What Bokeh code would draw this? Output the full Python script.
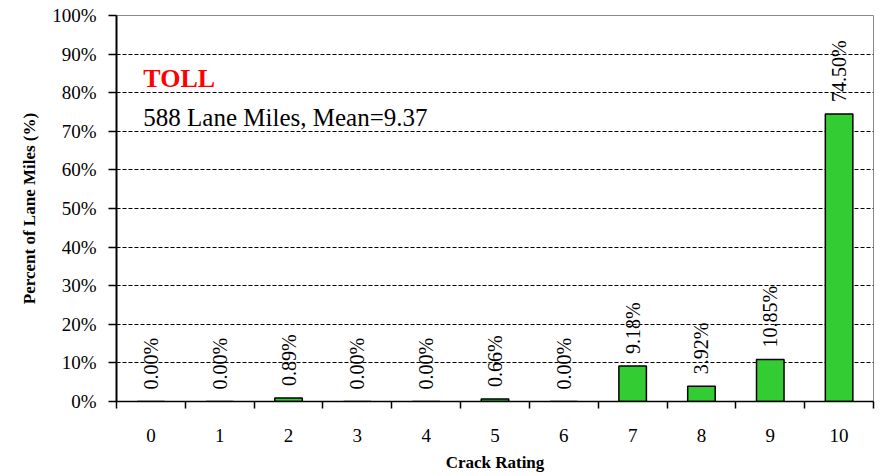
import math
from bokeh.plotting import figure
from bokeh.models import ColumnDataSource, FixedTicker, Label, CustomJSTickFormatter
from bokeh.core.properties import value
from bokeh.embed import file_html
from bokeh.resources import INLINE

ratings = [0, 1, 2, 3, 4, 5, 6, 7, 8, 9, 10]
percents = [0.00, 0.00, 0.89, 0.00, 0.00, 0.66, 0.00, 9.18, 3.92, 10.85, 74.50]
pct_labels = ["0.00%", "0.00%", "0.89%", "0.00%", "0.00%", "0.66%", "0.00%", "9.18%", "3.92%", "10.85%", "74.50%"]
y_ticks = [0, 10, 20, 30, 40, 50, 60, 70, 80, 90, 100]

FONT = "Liberation Serif"

src = ColumnDataSource(dict(x=ratings, top=percents, lab=pct_labels))

p = figure(width=876, height=474, x_range=(-0.5, 10.5), y_range=(0, 100),
           output_backend="svg", toolbar_location=None,
           min_border_left=116, min_border_top=15, min_border_right=3, min_border_bottom=60)

p.vbar(x="x", top="top", width=0.4, source=src, fill_color="#33CC33",
       line_color="black", line_width=1.5)

p.text(x="x", y="top", text="lab", source=src, angle=math.pi / 2,
       text_align="left", text_baseline="middle", y_offset=-12,
       text_font=value(FONT), text_font_size="20px", text_color="black")

# grid
p.xgrid.visible = False
p.ygrid.ticker = FixedTicker(ticks=y_ticks[1:-1])
p.ygrid.grid_line_color = "black"
p.ygrid.grid_line_dash = "4 2"
p.ygrid.grid_line_width = 1

p.outline_line_color = "#888888"
p.outline_line_width = 1
p.background_fill_color = "white"
p.border_fill_color = "white"

# x axis
p.xaxis.ticker = FixedTicker(ticks=ratings, minor_ticks=[r - 0.5 for r in ratings] + [10.5])
p.xaxis.major_tick_out = 0
p.xaxis.major_tick_in = 0
p.xaxis.minor_tick_out = 7
p.xaxis.minor_tick_in = 0
p.xaxis.minor_tick_line_color = "black"
p.xaxis.minor_tick_line_width = 1.5
p.xaxis.axis_line_color = "black"
p.xaxis.axis_line_width = 1.5
p.xaxis.major_label_text_font = FONT
p.xaxis.major_label_text_font_size = "19px"
p.xaxis.major_label_text_color = "black"
p.xaxis.major_label_standoff = 20
p.xaxis.axis_label = "Crack Rating"
p.xaxis.axis_label_text_font = FONT
p.xaxis.axis_label_text_font_size = "17px"
p.xaxis.axis_label_text_font_style = "bold"
p.xaxis.axis_label_text_color = "black"
p.xaxis.axis_label_standoff = 8

# y axis
p.yaxis.ticker = FixedTicker(ticks=y_ticks)
p.yaxis.formatter = CustomJSTickFormatter(code="return tick.toFixed(0) + '%';")
p.yaxis.major_tick_out = 8
p.yaxis.major_tick_in = 0
p.yaxis.minor_tick_out = 0
p.yaxis.minor_tick_in = 0
p.yaxis.major_tick_line_color = "black"
p.yaxis.major_tick_line_width = 1.5
p.yaxis.axis_line_color = "black"
p.yaxis.axis_line_width = 2
p.yaxis.major_label_text_font = FONT
p.yaxis.major_label_text_font_size = "19px"
p.yaxis.major_label_text_color = "black"
p.yaxis.major_label_standoff = 12
p.yaxis.axis_label = "Percent of Lane Miles (%)"
p.yaxis.axis_label_text_font = FONT
p.yaxis.axis_label_text_font_size = "17px"
p.yaxis.axis_label_text_font_style = "bold"
p.yaxis.axis_label_text_color = "black"
p.yaxis.axis_label_standoff = 10

p.add_layout(Label(x=-0.11, y=83.7, text="TOLL", text_font=FONT, text_font_size="26px",
                   text_font_style="bold", text_color="red", text_baseline="middle"))
p.add_layout(Label(x=-0.11, y=73.6, text="588 Lane Miles, Mean=9.37", text_font=FONT,
                   text_font_size="25px", text_color="black", text_baseline="middle"))

open("out.html", "w").write(file_html(p, INLINE))
